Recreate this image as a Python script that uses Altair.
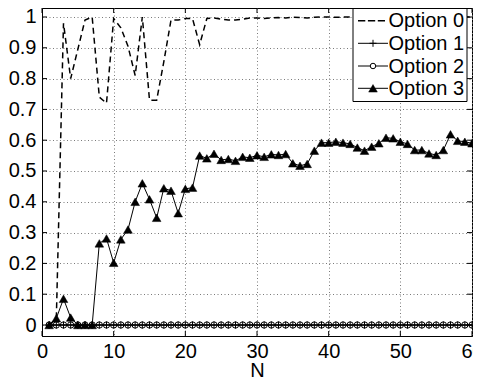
import altair as alt
import pandas as pd

N = list(range(1, 61))
series_names = ["Option 0", "Option 1", "Option 2", "Option 3"]

option0 = [0.0, 0.02, 0.98, 0.80, 0.895, 0.99, 1.0, 0.74, 0.72, 0.995,
           0.965, 0.905, 0.81, 1.0, 0.73, 0.73, 0.855, 0.99, 0.99, 0.995,
           0.995, 0.91, 0.995, 0.997, 0.993, 0.99, 0.99, 0.993, 0.997, 0.997,
           0.995, 0.997, 0.998, 0.997, 0.999, 0.998, 0.997, 0.999, 1.0, 1.0,
           0.999, 1.0, 1.0, 0.999, 1.0, 1.0, 1.0, 0.999, 1.0, 1.0,
           1.0, 1.0, 0.999, 1.0, 1.0, 1.0, 1.0, 1.0, 1.0, 1.0]
option1 = [0, 0, 0, 0, 0, 0, 0, 0, 0, 0,
           0, 0, 0, 0, 0, 0, 0, 0, 0, 0,
           0, 0, 0, 0, 0, 0, 0, 0, 0, 0,
           0, 0, 0, 0, 0, 0, 0, 0, 0, 0,
           0, 0, 0, 0, 0, 0, 0, 0, 0, 0,
           0, 0, 0, 0, 0, 0, 0, 0, 0, 0]
option2 = [0, 0, 0, 0, 0, 0, 0, 0, 0, 0,
           0, 0, 0, 0, 0, 0, 0, 0, 0, 0,
           0, 0, 0, 0, 0, 0, 0, 0, 0, 0,
           0, 0, 0, 0, 0, 0, 0, 0, 0, 0,
           0, 0, 0, 0, 0, 0, 0, 0, 0, 0,
           0, 0, 0, 0, 0, 0, 0, 0, 0, 0]
option3 = [0.0, 0.022, 0.085, 0.024, 0.0, 0.0, 0.0, 0.265, 0.281, 0.202,
           0.278, 0.31, 0.40, 0.46, 0.408, 0.348, 0.444, 0.436, 0.363, 0.442,
           0.446, 0.55, 0.541, 0.556, 0.536, 0.539, 0.533, 0.546, 0.543, 0.551,
           0.546, 0.554, 0.552, 0.555, 0.525, 0.517, 0.523, 0.566, 0.592, 0.592,
           0.595, 0.592, 0.588, 0.576, 0.566, 0.579, 0.59, 0.608, 0.606, 0.595,
           0.588, 0.568, 0.568, 0.557, 0.552, 0.568, 0.619, 0.598, 0.595, 0.59]

x_ticks = [0, 10, 20, 30, 40, 50, 60]
y_ticks = [0, 0.1, 0.2, 0.3, 0.4, 0.5, 0.6, 0.7, 0.8, 0.9, 1]

FONT = "Liberation Sans"
W, H = 430, 328
PLUS = "M-1,0H1M0,-1V1"

rows = []
for name, vals in zip(series_names, [option0, option1, option2, option3]):
    for n, v in zip(N, vals):
        rows.append({"N": n, "v": v, "series": name})
df = pd.DataFrame(rows)

xs = alt.Scale(domain=[0, 60], nice=False, zero=False)
ys = alt.Scale(domain=[-0.0357, 1.0292], nice=False, zero=False)

grid_kw = dict(grid=True, gridColor="#7a7a7a", gridDash=[1, 2.5], gridWidth=1,
               domainColor="black", domainWidth=1, ticks=False, tickSize=0,
               labelFont=FONT, labelFontSize=20, labelColor="black")
x_axis = alt.Axis(values=x_ticks, title="N", titleFont=FONT, titleFontSize=20,
                  titleFontWeight="normal", titleColor="black", titlePadding=-1,
                  labelPadding=5, labelFlush=False, labelOverlap=False, **grid_kw)
y_axis = alt.Axis(values=y_ticks, title=None, format="~g", labelPadding=6,
                  labelOverlap=False, **grid_kw)


def sub(name):
    return alt.Chart(df).transform_filter(alt.datum.series == name)


X = alt.X("N:Q", scale=xs, axis=x_axis)
Y = alt.Y("v:Q", scale=ys, axis=y_axis)

marker_styles = {
    "Option 1": dict(shape=PLUS, size=49, filled=False, stroke="black", strokeWidth=1, opacity=1),
    "Option 2": dict(shape="circle", size=40, filled=False, stroke="black", strokeWidth=1, opacity=1),
    "Option 3": dict(shape="triangle-up", size=75, filled=True, fill="black", stroke="black",
                     strokeWidth=0.5, opacity=1),
}

layers = [sub("Option 0").mark_line(color="black", strokeDash=[6, 4], strokeWidth=1.5).encode(x=X, y=Y)]
for name in series_names[1:]:
    layers.append(sub(name).mark_line(color="black", strokeWidth=1).encode(x=X, y=Y))
    layers.append(sub(name).mark_point(**marker_styles[name]).encode(x=X, y=Y))

# inward tick marks on all four sides (MATLAB box style)
xt = pd.DataFrame({"N": x_ticks})
yt = pd.DataFrame({"v": y_ticks})
layers += [
    alt.Chart(xt).mark_rule(color="black").encode(x=X, y=alt.value(H), y2=alt.value(H - 5)),
    alt.Chart(xt).mark_rule(color="black").encode(x=X, y=alt.value(0), y2=alt.value(5)),
    alt.Chart(yt).mark_rule(color="black").encode(y=Y, x=alt.value(0), x2=alt.value(5)),
    alt.Chart(yt).mark_rule(color="black").encode(y=Y, x=alt.value(W), x2=alt.value(W - 5)),
]

# legend box (top-right, MATLAB style)
LX0, LX1, LY0, LY1 = 311, 425, 0.5, 93.5
row_y = [12.7, 35.3, 58.0, 80.3]
SAMPLE_X0, SAMPLE_X1, TEXT_X = 316, 346, 346.5
box_df = pd.DataFrame({"k": [0]})
layers.append(alt.Chart(box_df).mark_rect(fill="white", stroke="black", strokeWidth=1).encode(
    x=alt.value(LX0), x2=alt.value(LX1), y=alt.value(LY0), y2=alt.value(LY1)))
for i, name in enumerate(series_names):
    ldf = pd.DataFrame({"label": [name]})
    ry = row_y[i]
    if i == 0:
        layers.append(alt.Chart(ldf).mark_rule(color="black", strokeWidth=1.5, strokeDash=[7.3, 2.6]).encode(
            x=alt.value(SAMPLE_X0), x2=alt.value(SAMPLE_X1 - 3), y=alt.value(ry)))
    else:
        layers.append(alt.Chart(ldf).mark_rule(color="black", strokeWidth=1).encode(
            x=alt.value(SAMPLE_X0), x2=alt.value(SAMPLE_X1), y=alt.value(ry)))
        st = dict(marker_styles[name])
        if name == "Option 2":
            st["size"] = 30
            st["fill"] = "white"
        layers.append(alt.Chart(ldf).mark_point(**st).encode(
            x=alt.value((SAMPLE_X0 + SAMPLE_X1) / 2), y=alt.value(ry)))
    layers.append(alt.Chart(ldf).mark_text(align="left", baseline="middle", font=FONT,
                                           fontSize=20, color="black").encode(
        x=alt.value(TEXT_X), y=alt.value(ry + 0.5), text="label:N"))

chart = alt.layer(*layers).properties(
    width=W, height=H,
    autosize=alt.AutoSizeParams(type="none"),
    padding={"left": 34, "top": 0, "right": 1, "bottom": 41},
    background="white",
).configure_view(stroke="black", strokeWidth=1)

chart.save("out.html", embed_options={"renderer": "svg", "actions": False})
